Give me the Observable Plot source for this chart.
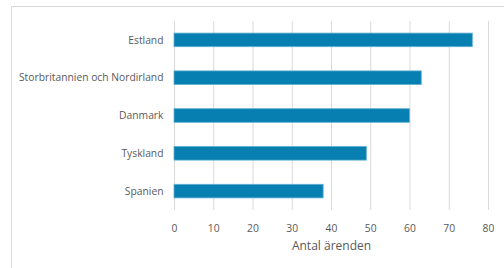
<!DOCTYPE html>
<html><head><meta charset="utf-8">
<script src="https://cdn.jsdelivr.net/npm/d3@7"></script>
<script src="https://cdn.jsdelivr.net/npm/@observablehq/plot@0.6"></script>
<style>
body{margin:0;background:#fff;}
#wrap{position:relative;width:504px;height:268px;overflow:hidden;}
#frame{position:absolute;left:11px;top:6px;width:520px;height:300px;border:1px solid #d9d9d9;box-sizing:border-box;}
#chart{position:absolute;left:0;top:0;}
</style></head>
<body><div id="wrap"><div id="frame"></div><div id="chart"></div></div>
<script>
const countries = ["Estland","Storbritannien och Nordirland","Danmark","Tyskland","Spanien"];
const values = [76,63,60,49,38];
const xTicks = [0,10,20,30,40,50,60,70,80];
const xLabel = "Antal ärenden";
const data = countries.map((c,i)=>({country:c,value:values[i]}));
const font = "'Open Sans', sans-serif";
const chart = Plot.plot({
  width:504, height:268,
  marginLeft:174, marginRight:16, marginTop:21, marginBottom:58,
  style:{fontFamily:font,fontSize:"10.3px",color:"#595959",background:"transparent"},
  x:{domain:[0,80],ticks:xTicks},
  y:{domain:countries,paddingInner:0.64,paddingOuter:0.32,round:false},
  marks:[
    Plot.gridX(xTicks,{stroke:"#d9d9d9",strokeOpacity:1,strokeWidth:1}),
    Plot.axisX({ticks:xTicks,tickSize:0,tickPadding:14,label:null,fill:"#595959"}),
    Plot.axisY({tickSize:0,tickPadding:11,label:null,fill:"#595959"}),
    Plot.barX(data,{x:"value",y:"country",fill:"#077fb0",stroke:"#5fb0d3",strokeWidth:0.8}),
    Plot.text([xLabel],{frameAnchor:"bottom",dy:39,text:d=>d,fontSize:12,fill:"#595959"})
  ]
});
document.getElementById("chart").appendChild(chart);
</script></body></html>
